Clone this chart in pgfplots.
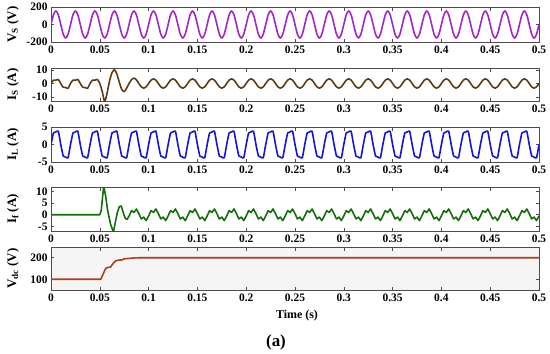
\documentclass[border=0pt]{standalone}
\usepackage{fontspec}
\setmainfont{Liberation Serif}
\usepackage{pgfplots}
\pgfplotsset{compat=1.18}
\definecolor{cvs}{RGB}{160,40,200}
\definecolor{cis}{RGB}{95,60,20}
\definecolor{cil}{RGB}{20,20,220}
\definecolor{cif}{RGB}{20,110,10}
\definecolor{cvdc}{RGB}{180,60,25}
\pgfplotsset{
  panel/.style={
    scale only axis, width=488bp, xmin=0, xmax=0.5,
    anchor=north west,
    xtick={0,0.05,0.1,0.15,0.2,0.25,0.3,0.35,0.4,0.45,0.5},
    xticklabels={0,0.05,0.1,0.15,0.2,0.25,0.3,0.35,0.4,0.45,0.5},
    tick pos=both, xticklabel pos=lower, yticklabel pos=left,
    tick align=inside,
    tick label style={font=\bfseries\fontsize{11.5}{12}\selectfont},
    major tick length=3.5bp,
    axis line style={draw=black!70, line width=0.6bp},
    every tick/.style={black!70, line width=0.6bp},
    ylabel style={at={(axis description cs:-0.078,0.5)}, anchor=center, font=\bfseries\fontsize{13}{14}\selectfont},
    /pgf/number format/assume math mode=true,
    every axis plot/.append style={line width=1.6bp, line join=round},
  }
}
\begin{document}
\begin{tikzpicture}
\path[use as bounding box] (0,0) rectangle (550bp,-354bp);
% Vs
\begin{axis}[panel, at={(51bp,-7bp)}, height=35bp, ymin=-200, ymax=200,
  ytick={-200,0,200}, yticklabels={-200,0,200}, ylabel={V\textsubscript{S} (V)}]
\addplot[cvs, smooth] coordinates {
(0,0) (0.0025,110) (0.005,155) (0.0075,110) (0.01,0) (0.0125,-110) (0.015,-155) (0.0175,-110)
(0.02,0) (0.0225,110) (0.025,155) (0.0275,110) (0.03,0) (0.0325,-110) (0.035,-155) (0.0375,-110)
(0.04,0) (0.0425,110) (0.045,155) (0.0475,110) (0.05,0) (0.0525,-110) (0.055,-155) (0.0575,-110)
(0.06,0) (0.0625,110) (0.065,155) (0.0675,110) (0.07,0) (0.0725,-110) (0.075,-155) (0.0775,-110)
(0.08,0) (0.0825,110) (0.085,155) (0.0875,110) (0.09,0) (0.0925,-110) (0.095,-155) (0.0975,-110)
(0.1,0) (0.1025,110) (0.105,155) (0.1075,110) (0.11,0) (0.1125,-110) (0.115,-155) (0.1175,-110)
(0.12,0) (0.1225,110) (0.125,155) (0.1275,110) (0.13,0) (0.1325,-110) (0.135,-155) (0.1375,-110)
(0.14,0) (0.1425,110) (0.145,155) (0.1475,110) (0.15,0) (0.1525,-110) (0.155,-155) (0.1575,-110)
(0.16,0) (0.1625,110) (0.165,155) (0.1675,110) (0.17,0) (0.1725,-110) (0.175,-155) (0.1775,-110)
(0.18,0) (0.1825,110) (0.185,155) (0.1875,110) (0.19,0) (0.1925,-110) (0.195,-155) (0.1975,-110)
(0.2,0) (0.2025,110) (0.205,155) (0.2075,110) (0.21,0) (0.2125,-110) (0.215,-155) (0.2175,-110)
(0.22,0) (0.2225,110) (0.225,155) (0.2275,110) (0.23,0) (0.2325,-110) (0.235,-155) (0.2375,-110)
(0.24,0) (0.2425,110) (0.245,155) (0.2475,110) (0.25,0) (0.2525,-110) (0.255,-155) (0.2575,-110)
(0.26,0) (0.2625,110) (0.265,155) (0.2675,110) (0.27,0) (0.2725,-110) (0.275,-155) (0.2775,-110)
(0.28,0) (0.2825,110) (0.285,155) (0.2875,110) (0.29,0) (0.2925,-110) (0.295,-155) (0.2975,-110)
(0.3,0) (0.3025,110) (0.305,155) (0.3075,110) (0.31,0) (0.3125,-110) (0.315,-155) (0.3175,-110)
(0.32,0) (0.3225,110) (0.325,155) (0.3275,110) (0.33,0) (0.3325,-110) (0.335,-155) (0.3375,-110)
(0.34,0) (0.3425,110) (0.345,155) (0.3475,110) (0.35,0) (0.3525,-110) (0.355,-155) (0.3575,-110)
(0.36,0) (0.3625,110) (0.365,155) (0.3675,110) (0.37,0) (0.3725,-110) (0.375,-155) (0.3775,-110)
(0.38,0) (0.3825,110) (0.385,155) (0.3875,110) (0.39,0) (0.3925,-110) (0.395,-155) (0.3975,-110)
(0.4,0) (0.4025,110) (0.405,155) (0.4075,110) (0.41,0) (0.4125,-110) (0.415,-155) (0.4175,-110)
(0.42,0) (0.4225,110) (0.425,155) (0.4275,110) (0.43,0) (0.4325,-110) (0.435,-155) (0.4375,-110)
(0.44,0) (0.4425,110) (0.445,155) (0.4475,110) (0.45,0) (0.4525,-110) (0.455,-155) (0.4575,-110)
(0.46,0) (0.4625,110) (0.465,155) (0.4675,110) (0.47,0) (0.4725,-110) (0.475,-155) (0.4775,-110)
(0.48,0) (0.4825,110) (0.485,155) (0.4875,110) (0.49,0) (0.4925,-110) (0.495,-155) (0.4975,-110)
(0.5,0)};
\end{axis}
% Is
\begin{axis}[panel, at={(51bp,-68bp)}, height=33bp, ymin=-13, ymax=11.5,
  ytick={-10,0,10}, yticklabels={-10,0,10}, ylabel={I\textsubscript{S} (A)}]
\addplot[cis, smooth, tension=0.4] coordinates {
(0,0) (0.0025,2.5) (0.005,2.4) (0.0075,3.0) (0.01,0) (0.0125,-2.8) (0.015,-3.0) (0.0175,-3.6)
(0.02,0) (0.0225,2.5) (0.025,2.4) (0.0275,3.0) (0.03,0) (0.0325,-2.8) (0.035,-3.0) (0.0375,-3.6)
(0.04,0) (0.0425,2.5) (0.045,2.4) (0.0475,3.0) (0.05,0)
(0.0525,-6) (0.055,-13.5) (0.0575,-7) (0.06,2) (0.0625,8) (0.065,10.2) (0.0675,7) (0.07,1)
(0.0725,-4.5) (0.075,-6) (0.0775,-3.5) (0.08,0) (0.0825,2.8) (0.085,4) (0.0875,2.7) (0.09,0)
(0.0925,-2.5) (0.095,-3.5) (0.0975,-2.5)
(0.1,0) (0.1025,2.5) (0.105,3.5) (0.1075,2.5) (0.11,0) (0.1125,-2.5) (0.115,-3.5) (0.1175,-2.5)
(0.12,0) (0.1225,2.5) (0.125,3.5) (0.1275,2.5) (0.13,0) (0.1325,-2.5) (0.135,-3.5) (0.1375,-2.5)
(0.14,0) (0.1425,2.5) (0.145,3.5) (0.1475,2.5) (0.15,0) (0.1525,-2.5) (0.155,-3.5) (0.1575,-2.5)
(0.16,0) (0.1625,2.5) (0.165,3.5) (0.1675,2.5) (0.17,0) (0.1725,-2.5) (0.175,-3.5) (0.1775,-2.5)
(0.18,0) (0.1825,2.5) (0.185,3.5) (0.1875,2.5) (0.19,0) (0.1925,-2.5) (0.195,-3.5) (0.1975,-2.5)
(0.2,0) (0.2025,2.5) (0.205,3.5) (0.2075,2.5) (0.21,0) (0.2125,-2.5) (0.215,-3.5) (0.2175,-2.5)
(0.22,0) (0.2225,2.5) (0.225,3.5) (0.2275,2.5) (0.23,0) (0.2325,-2.5) (0.235,-3.5) (0.2375,-2.5)
(0.24,0) (0.2425,2.5) (0.245,3.5) (0.2475,2.5) (0.25,0) (0.2525,-2.5) (0.255,-3.5) (0.2575,-2.5)
(0.26,0) (0.2625,2.5) (0.265,3.5) (0.2675,2.5) (0.27,0) (0.2725,-2.5) (0.275,-3.5) (0.2775,-2.5)
(0.28,0) (0.2825,2.5) (0.285,3.5) (0.2875,2.5) (0.29,0) (0.2925,-2.5) (0.295,-3.5) (0.2975,-2.5)
(0.3,0) (0.3025,2.5) (0.305,3.5) (0.3075,2.5) (0.31,0) (0.3125,-2.5) (0.315,-3.5) (0.3175,-2.5)
(0.32,0) (0.3225,2.5) (0.325,3.5) (0.3275,2.5) (0.33,0) (0.3325,-2.5) (0.335,-3.5) (0.3375,-2.5)
(0.34,0) (0.3425,2.5) (0.345,3.5) (0.3475,2.5) (0.35,0) (0.3525,-2.5) (0.355,-3.5) (0.3575,-2.5)
(0.36,0) (0.3625,2.5) (0.365,3.5) (0.3675,2.5) (0.37,0) (0.3725,-2.5) (0.375,-3.5) (0.3775,-2.5)
(0.38,0) (0.3825,2.5) (0.385,3.5) (0.3875,2.5) (0.39,0) (0.3925,-2.5) (0.395,-3.5) (0.3975,-2.5)
(0.4,0) (0.4025,2.5) (0.405,3.5) (0.4075,2.5) (0.41,0) (0.4125,-2.5) (0.415,-3.5) (0.4175,-2.5)
(0.42,0) (0.4225,2.5) (0.425,3.5) (0.4275,2.5) (0.43,0) (0.4325,-2.5) (0.435,-3.5) (0.4375,-2.5)
(0.44,0) (0.4425,2.5) (0.445,3.5) (0.4475,2.5) (0.45,0) (0.4525,-2.5) (0.455,-3.5) (0.4575,-2.5)
(0.46,0) (0.4625,2.5) (0.465,3.5) (0.4675,2.5) (0.47,0) (0.4725,-2.5) (0.475,-3.5) (0.4775,-2.5)
(0.48,0) (0.4825,2.5) (0.485,3.5) (0.4875,2.5) (0.49,0) (0.4925,-2.5) (0.495,-3.5) (0.4975,-2.5)
(0.5,0)};
\end{axis}
% IL
\begin{axis}[panel, at={(51bp,-127bp)}, height=35bp, ymin=-5, ymax=5,
  ytick={-5,0,5}, yticklabels={-5,0,5}, ylabel={I\textsubscript{L} (A)}]
\addplot[cil, smooth, tension=0.25] coordinates {
(0,0) (0.0025,3.3) (0.005,3.6) (0.0075,3.8) (0.01,0) (0.0125,-3.3) (0.015,-3.6) (0.0175,-3.8)
(0.02,0) (0.0225,3.3) (0.025,3.6) (0.0275,3.8) (0.03,0) (0.0325,-3.3) (0.035,-3.6) (0.0375,-3.8)
(0.04,0) (0.0425,3.3) (0.045,3.6) (0.0475,3.8) (0.05,0) (0.0525,-3.3) (0.055,-3.6) (0.0575,-3.8)
(0.06,0) (0.0625,3.3) (0.065,3.6) (0.0675,3.8) (0.07,0) (0.0725,-3.3) (0.075,-3.6) (0.0775,-3.8)
(0.08,0) (0.0825,3.3) (0.085,3.6) (0.0875,3.8) (0.09,0) (0.0925,-3.3) (0.095,-3.6) (0.0975,-3.8)
(0.1,0) (0.1025,3.3) (0.105,3.6) (0.1075,3.8) (0.11,0) (0.1125,-3.3) (0.115,-3.6) (0.1175,-3.8)
(0.12,0) (0.1225,3.3) (0.125,3.6) (0.1275,3.8) (0.13,0) (0.1325,-3.3) (0.135,-3.6) (0.1375,-3.8)
(0.14,0) (0.1425,3.3) (0.145,3.6) (0.1475,3.8) (0.15,0) (0.1525,-3.3) (0.155,-3.6) (0.1575,-3.8)
(0.16,0) (0.1625,3.3) (0.165,3.6) (0.1675,3.8) (0.17,0) (0.1725,-3.3) (0.175,-3.6) (0.1775,-3.8)
(0.18,0) (0.1825,3.3) (0.185,3.6) (0.1875,3.8) (0.19,0) (0.1925,-3.3) (0.195,-3.6) (0.1975,-3.8)
(0.2,0) (0.2025,3.3) (0.205,3.6) (0.2075,3.8) (0.21,0) (0.2125,-3.3) (0.215,-3.6) (0.2175,-3.8)
(0.22,0) (0.2225,3.3) (0.225,3.6) (0.2275,3.8) (0.23,0) (0.2325,-3.3) (0.235,-3.6) (0.2375,-3.8)
(0.24,0) (0.2425,3.3) (0.245,3.6) (0.2475,3.8) (0.25,0) (0.2525,-3.3) (0.255,-3.6) (0.2575,-3.8)
(0.26,0) (0.2625,3.3) (0.265,3.6) (0.2675,3.8) (0.27,0) (0.2725,-3.3) (0.275,-3.6) (0.2775,-3.8)
(0.28,0) (0.2825,3.3) (0.285,3.6) (0.2875,3.8) (0.29,0) (0.2925,-3.3) (0.295,-3.6) (0.2975,-3.8)
(0.3,0) (0.3025,3.3) (0.305,3.6) (0.3075,3.8) (0.31,0) (0.3125,-3.3) (0.315,-3.6) (0.3175,-3.8)
(0.32,0) (0.3225,3.3) (0.325,3.6) (0.3275,3.8) (0.33,0) (0.3325,-3.3) (0.335,-3.6) (0.3375,-3.8)
(0.34,0) (0.3425,3.3) (0.345,3.6) (0.3475,3.8) (0.35,0) (0.3525,-3.3) (0.355,-3.6) (0.3575,-3.8)
(0.36,0) (0.3625,3.3) (0.365,3.6) (0.3675,3.8) (0.37,0) (0.3725,-3.3) (0.375,-3.6) (0.3775,-3.8)
(0.38,0) (0.3825,3.3) (0.385,3.6) (0.3875,3.8) (0.39,0) (0.3925,-3.3) (0.395,-3.6) (0.3975,-3.8)
(0.4,0) (0.4025,3.3) (0.405,3.6) (0.4075,3.8) (0.41,0) (0.4125,-3.3) (0.415,-3.6) (0.4175,-3.8)
(0.42,0) (0.4225,3.3) (0.425,3.6) (0.4275,3.8) (0.43,0) (0.4325,-3.3) (0.435,-3.6) (0.4375,-3.8)
(0.44,0) (0.4425,3.3) (0.445,3.6) (0.4475,3.8) (0.45,0) (0.4525,-3.3) (0.455,-3.6) (0.4575,-3.8)
(0.46,0) (0.4625,3.3) (0.465,3.6) (0.4675,3.8) (0.47,0) (0.4725,-3.3) (0.475,-3.6) (0.4775,-3.8)
(0.48,0) (0.4825,3.3) (0.485,3.6) (0.4875,3.8) (0.49,0) (0.4925,-3.3) (0.495,-3.6) (0.4975,-3.8)
(0.5,0)};
\end{axis}
% If
\begin{axis}[panel, at={(51bp,-187bp)}, height=44bp, ymin=-7, ymax=12,
  ytick={-5,0,5,10}, yticklabels={-5,0,5,10}, ylabel={I\textsubscript{f} (A)}]
\addplot[cif] coordinates {
(0,0) (0.05,0) (0.0515,2) (0.054,12.5) (0.056,8) (0.058,2) (0.061,-4) (0.064,-7.5) (0.066,-3)
(0.068,1) (0.07,3.5) (0.072,3.8) (0.074,1) (0.076,-1.5) (0.078,-2)
(0.08,-0.5) (0.0825,1.8) (0.085,1.0) (0.0875,2.5) (0.09,0.5) (0.0925,-1.8) (0.095,-1.0) (0.0975,-2.5)
(0.1,-0.5) (0.1025,1.8) (0.105,1.0) (0.1075,2.5) (0.11,0.5) (0.1125,-1.8) (0.115,-1.0) (0.1175,-2.5)
(0.12,-0.5) (0.1225,1.8) (0.125,1.0) (0.1275,2.5) (0.13,0.5) (0.1325,-1.8) (0.135,-1.0) (0.1375,-2.5)
(0.14,-0.5) (0.1425,1.8) (0.145,1.0) (0.1475,2.5) (0.15,0.5) (0.1525,-1.8) (0.155,-1.0) (0.1575,-2.5)
(0.16,-0.5) (0.1625,1.8) (0.165,1.0) (0.1675,2.5) (0.17,0.5) (0.1725,-1.8) (0.175,-1.0) (0.1775,-2.5)
(0.18,-0.5) (0.1825,1.8) (0.185,1.0) (0.1875,2.5) (0.19,0.5) (0.1925,-1.8) (0.195,-1.0) (0.1975,-2.5)
(0.2,-0.5) (0.2025,1.8) (0.205,1.0) (0.2075,2.5) (0.21,0.5) (0.2125,-1.8) (0.215,-1.0) (0.2175,-2.5)
(0.22,-0.5) (0.2225,1.8) (0.225,1.0) (0.2275,2.5) (0.23,0.5) (0.2325,-1.8) (0.235,-1.0) (0.2375,-2.5)
(0.24,-0.5) (0.2425,1.8) (0.245,1.0) (0.2475,2.5) (0.25,0.5) (0.2525,-1.8) (0.255,-1.0) (0.2575,-2.5)
(0.26,-0.5) (0.2625,1.8) (0.265,1.0) (0.2675,2.5) (0.27,0.5) (0.2725,-1.8) (0.275,-1.0) (0.2775,-2.5)
(0.28,-0.5) (0.2825,1.8) (0.285,1.0) (0.2875,2.5) (0.29,0.5) (0.2925,-1.8) (0.295,-1.0) (0.2975,-2.5)
(0.3,-0.5) (0.3025,1.8) (0.305,1.0) (0.3075,2.5) (0.31,0.5) (0.3125,-1.8) (0.315,-1.0) (0.3175,-2.5)
(0.32,-0.5) (0.3225,1.8) (0.325,1.0) (0.3275,2.5) (0.33,0.5) (0.3325,-1.8) (0.335,-1.0) (0.3375,-2.5)
(0.34,-0.5) (0.3425,1.8) (0.345,1.0) (0.3475,2.5) (0.35,0.5) (0.3525,-1.8) (0.355,-1.0) (0.3575,-2.5)
(0.36,-0.5) (0.3625,1.8) (0.365,1.0) (0.3675,2.5) (0.37,0.5) (0.3725,-1.8) (0.375,-1.0) (0.3775,-2.5)
(0.38,-0.5) (0.3825,1.8) (0.385,1.0) (0.3875,2.5) (0.39,0.5) (0.3925,-1.8) (0.395,-1.0) (0.3975,-2.5)
(0.4,-0.5) (0.4025,1.8) (0.405,1.0) (0.4075,2.5) (0.41,0.5) (0.4125,-1.8) (0.415,-1.0) (0.4175,-2.5)
(0.42,-0.5) (0.4225,1.8) (0.425,1.0) (0.4275,2.5) (0.43,0.5) (0.4325,-1.8) (0.435,-1.0) (0.4375,-2.5)
(0.44,-0.5) (0.4425,1.8) (0.445,1.0) (0.4475,2.5) (0.45,0.5) (0.4525,-1.8) (0.455,-1.0) (0.4575,-2.5)
(0.46,-0.5) (0.4625,1.8) (0.465,1.0) (0.4675,2.5) (0.47,0.5) (0.4725,-1.8) (0.475,-1.0) (0.4775,-2.5)
(0.48,-0.5) (0.4825,1.8) (0.485,1.0) (0.4875,2.5) (0.49,0.5) (0.4925,-1.8) (0.495,-1.0) (0.4975,-2.5)
(0.5,-0.5)};
\end{axis}
% Vdc
\begin{axis}[panel, at={(51bp,-247bp)}, height=43bp, ymin=50, ymax=250,
  axis background/.style={fill=black!4},
  ytick={100,200}, yticklabels={100,200}, ylabel={V\textsubscript{dc} (V)}]
\addplot[cvdc] coordinates {
(0,100) (0.051,100) (0.053,120) (0.056,150) (0.058,155) (0.061,156) (0.063,170) (0.066,185)
(0.069,189) (0.073,190) (0.075,195) (0.08,197) (0.085,199) (0.09,200) (0.5,200)};
\end{axis}
\node[font=\bfseries\fontsize{12}{13}\selectfont] at (297bp,-316bp) {Time (s)};
\node[font=\bfseries\fontsize{17}{18}\selectfont] at (276bp,-342bp) {(a)};
\end{tikzpicture}
\end{document}
